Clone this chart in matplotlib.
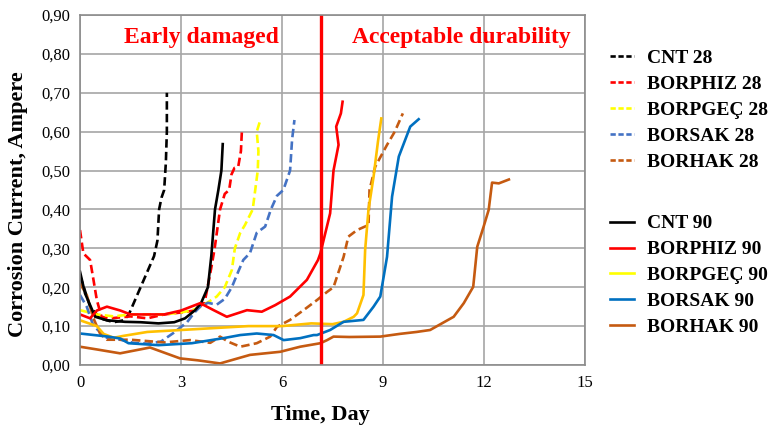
import matplotlib
matplotlib.use("Agg")
import matplotlib.pyplot as plt
from matplotlib.lines import Line2D

plt.rcParams['font.family'] = ['Liberation Serif', 'DejaVu Serif']

# 28-day samples (dashed)
cnt28_x = [0, 0.15, 0.3, 0.6, 1.0, 1.3, 1.45, 1.6, 1.8, 2.0, 2.2, 2.3, 2.35, 2.42, 2.5, 2.55, 2.58, 2.58]
cnt28_y = [0.23, 0.19, 0.15, 0.12, 0.11, 0.115, 0.13, 0.16, 0.20, 0.24, 0.28, 0.32, 0.40, 0.43, 0.45, 0.52, 0.60, 0.70]
phiz28_x = [0, 0.1, 0.3, 0.4, 0.5, 0.64, 0.9, 1.5, 2.0, 2.5, 3.0, 3.4, 3.7, 3.9, 4.0, 4.16, 4.3, 4.43, 4.5, 4.59, 4.7, 4.78, 4.81]
phiz28_y = [0.347, 0.287, 0.27, 0.219, 0.167, 0.124, 0.12, 0.125, 0.12, 0.13, 0.135, 0.14, 0.16, 0.25, 0.30, 0.40, 0.44, 0.45, 0.49, 0.507, 0.51, 0.55, 0.604]
pgec28_x = [0, 0.5, 1.0, 1.5, 2.0, 2.5, 3.0, 3.3, 3.6, 4.06, 4.3, 4.51, 4.6, 4.76, 4.9, 5.13, 5.28, 5.3, 5.25, 5.35]
pgec28_y = [0.141, 0.13, 0.125, 0.13, 0.13, 0.13, 0.135, 0.14, 0.15, 0.176, 0.20, 0.244, 0.30, 0.34, 0.36, 0.40, 0.50, 0.55, 0.60, 0.628]
sak28_x = [0, 0.2, 0.4, 0.8, 1.2, 1.58, 2.0, 2.4, 2.77, 3.18, 3.4, 3.57, 3.8, 4.06, 4.3, 4.51, 4.7, 4.85, 5.05, 5.25, 5.5, 5.67, 5.85, 6.04, 6.24, 6.3, 6.37]
sak28_y = [0.18, 0.15, 0.10, 0.07, 0.065, 0.057, 0.055, 0.06, 0.082, 0.11, 0.135, 0.15, 0.16, 0.155, 0.17, 0.20, 0.24, 0.27, 0.288, 0.34, 0.356, 0.40, 0.435, 0.45, 0.50, 0.58, 0.63]
hak28_x = [0, 0.2, 0.4, 0.6, 0.8, 1.5, 2.5, 3.27, 3.87, 4.16, 4.4, 4.76, 5.25, 5.65, 5.85, 6.24, 6.64, 7.04, 7.34, 7.53, 7.83, 7.97, 8.23, 8.57, 8.6, 8.77, 9.12, 9.35, 9.59]
hak28_y = [0.21, 0.18, 0.12, 0.08, 0.065, 0.065, 0.058, 0.064, 0.057, 0.073, 0.06, 0.047, 0.056, 0.073, 0.098, 0.116, 0.141, 0.167, 0.188, 0.20, 0.278, 0.33, 0.347, 0.36, 0.45, 0.51, 0.566, 0.60, 0.647]

# 90-day samples (solid)
cnt90_x = [0, 0.15, 0.45, 0.8, 1.34, 1.8, 2.33, 2.8, 3.12, 3.42, 3.6, 3.8, 3.9, 4.01, 4.11, 4.2, 4.24]
cnt90_y = [0.24, 0.184, 0.124, 0.115, 0.111, 0.11, 0.107, 0.11, 0.12, 0.141, 0.16, 0.20, 0.28, 0.40, 0.45, 0.50, 0.568]
phiz90_x = [0, 0.3, 0.5, 0.8, 1.2, 1.5, 2.0, 2.5, 3.0, 3.57, 3.97, 4.36, 4.96, 5.4, 5.8, 6.24, 6.74, 6.96, 7.07, 7.14, 7.43, 7.53, 7.68, 7.61, 7.75, 7.8]
phiz90_y = [0.13, 0.12, 0.14, 0.15, 0.14, 0.13, 0.13, 0.13, 0.14, 0.159, 0.141, 0.124, 0.141, 0.137, 0.154, 0.176, 0.219, 0.253, 0.27, 0.287, 0.39, 0.50, 0.566, 0.613, 0.647, 0.677]
pgec90_x = [0, 0.5, 0.7, 1.0, 1.3, 2.0, 3.0, 4.0, 5.0, 6.0, 6.87, 7.5, 7.83, 8.13, 8.23, 8.42, 8.47, 8.57, 8.72, 8.85, 8.95]
pgec90_y = [0.115, 0.10, 0.08, 0.07, 0.075, 0.085, 0.09, 0.095, 0.10, 0.10, 0.107, 0.105, 0.111, 0.124, 0.133, 0.18, 0.296, 0.40, 0.484, 0.574, 0.634]
sak90_x = [0, 0.84, 1.2, 1.44, 2.33, 3.32, 4.26, 4.76, 5.25, 5.75, 6.05, 6.54, 6.94, 7.04, 7.43, 7.83, 8.42, 8.72, 8.92, 9.12, 9.27, 9.47, 9.81, 10.06]
sak90_y = [0.081, 0.073, 0.068, 0.056, 0.051, 0.056, 0.069, 0.077, 0.081, 0.077, 0.064, 0.069, 0.077, 0.077, 0.09, 0.111, 0.116, 0.15, 0.176, 0.278, 0.433, 0.536, 0.613, 0.632]
hak90_x = [0, 0.5, 1.19, 2.08, 2.97, 3.5, 4.16, 5.05, 5.95, 6.54, 7.14, 7.34, 7.53, 8.0, 8.92, 9.5, 10.0, 10.4, 10.75, 11.1, 11.4, 11.68, 11.8, 11.99, 12.14, 12.24, 12.44, 12.74]
hak90_y = [0.047, 0.04, 0.030, 0.045, 0.017, 0.012, 0.004, 0.026, 0.034, 0.047, 0.056, 0.064, 0.073, 0.072, 0.073, 0.08, 0.085, 0.09, 0.107, 0.124, 0.159, 0.201, 0.304, 0.356, 0.399, 0.469, 0.467, 0.477]

fig = plt.figure(figsize=(7.7, 4.26), dpi=100)
ax = fig.add_axes([0.1039, 0.1432, 0.6558, 0.8216])

dash = (0, (3.2, 1.6))
lw = 1.9
ax.plot(cnt28_x, cnt28_y, color='black', lw=lw, ls=dash)
ax.plot(phiz28_x, phiz28_y, color='#FF0000', lw=lw, ls=dash)
ax.plot(pgec28_x, pgec28_y, color='#FFFF00', lw=lw, ls=dash)
ax.plot(sak28_x, sak28_y, color='#4472C4', lw=lw, ls=dash)
ax.plot(hak28_x, hak28_y, color='#C55A11', lw=lw, ls=dash)
ax.plot(cnt90_x, cnt90_y, color='black', lw=lw)
ax.plot(phiz90_x, phiz90_y, color='#FF0000', lw=lw)
ax.plot(pgec90_x, pgec90_y, color='#FFC000', lw=lw)
ax.plot(sak90_x, sak90_y, color='#0070C0', lw=lw)
ax.plot(hak90_x, hak90_y, color='#C55A11', lw=lw)

ax.axvline(7.15, color='#FF0000', lw=2.4)
ax.text(3.6, 0.843, 'Early damaged', color='#FF0000', fontsize=17, fontweight='bold', ha='center', va='center')
ax.text(11.33, 0.843, 'Acceptable durability', color='#FF0000', fontsize=17, fontweight='bold', ha='center', va='center')

ax.set_xlim(0, 15)
ax.set_ylim(0, 0.9)
ax.set_xticks([0, 3, 6, 9, 12, 15])
ax.set_yticks([i / 10 for i in range(10)])
ax.set_yticklabels([f'{i / 10:.2f}'.replace('.', ',') for i in range(10)])
ax.tick_params(labelsize=12, length=0, pad=7)
ax.grid(True, color='#A6A6A6', lw=1.2)
ax.set_axisbelow(True)
for s in ax.spines.values():
    s.set_color('#8C8C8C')
    s.set_linewidth(1.2)
ax.set_xlabel('Time, Day', fontsize=16, fontweight='bold', labelpad=9)
ax.xaxis.set_label_coords(0.476, -0.115)
ax.set_ylabel('Corrosion Current, Ampere', fontsize=16, fontweight='bold')
ax.yaxis.set_label_coords(-0.103, 0.46)

# legends
h28 = [Line2D([], [], color=c, lw=lw, ls=(0, (2, 1))) for c in ['black', '#FF0000', '#FFFF00', '#4472C4', '#C55A11']]
l28 = ['CNT 28', 'BORPHIZ 28', 'BORPGEÇ 28', 'BORSAK 28', 'BORHAK 28']
h90 = [Line2D([], [], color=c, lw=lw) for c in ['black', '#FF0000', '#FFFF00', '#0070C0', '#C55A11']]
l90 = ['CNT 90', 'BORPHIZ 90', 'BORPGEÇ 90', 'BORSAK 90', 'BORHAK 90']
leg_kw = dict(loc='upper left', frameon=False, handlelength=1.2, handletextpad=0.7,
              labelspacing=0.43, prop={'weight': 'bold', 'size': 14})
fig.legend(h28, l28, bbox_to_anchor=(0.77, 0.926), **leg_kw)
fig.legend(h90, l90, bbox_to_anchor=(0.77, 0.537), **leg_kw)

fig.savefig('out.png', dpi=100)
